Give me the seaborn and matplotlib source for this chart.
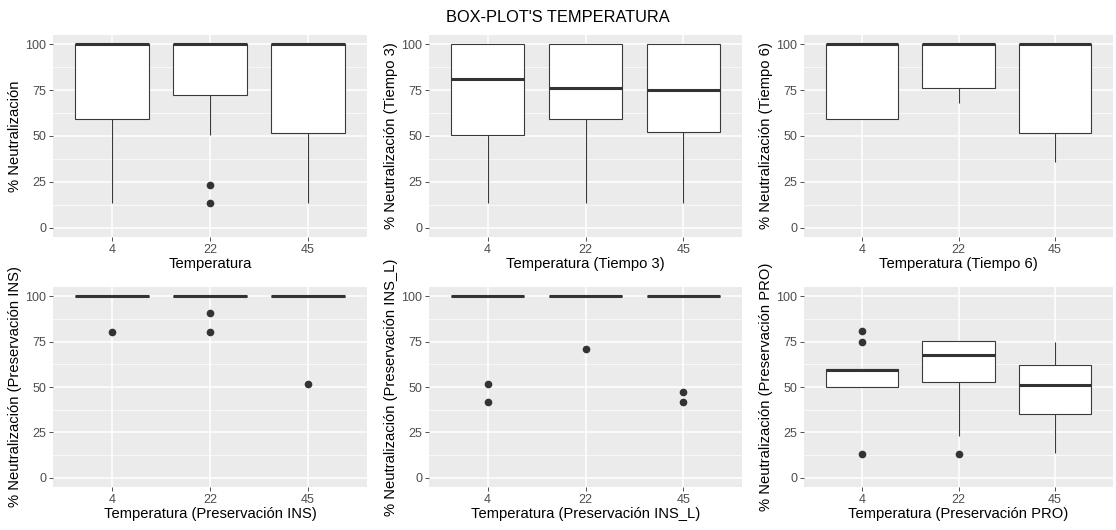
import numpy as np
import pandas as pd
import matplotlib
matplotlib.use("Agg")
import matplotlib.pyplot as plt
from matplotlib.ticker import MultipleLocator
import seaborn as sns

# ---- data ----
temperatures = ["4", "22", "45"]

neutral_t = {
    "4":  [13.7, 30, 45, 59.5, 70, 85, 100, 100, 100, 100, 100, 100, 100],
    "22": [13.4, 23.3, 50.4, 72.3, 85, 95, 100, 100, 100, 100, 100, 100, 100],
    "45": [13.7, 25, 40, 51.6, 65, 80, 100, 100, 100, 100, 100, 100, 100],
}
neutral_t3 = {
    "4":  [13.7, 30, 42, 50.7, 60, 72, 81.0, 90, 95, 100, 100, 100, 100],
    "22": [13.7, 35, 50, 59.5, 65, 70, 76.0, 85, 95, 100, 100, 100, 100],
    "45": [13.7, 30, 45, 52.2, 60, 70, 75.1, 85, 92, 100, 100, 100, 100],
}
neutral_t6 = {
    "4":  [59.5, 59.5, 59.5, 59.5, 80, 90, 100, 100, 100, 100, 100, 100, 100],
    "22": [68.1, 70, 76.0, 76.0, 85, 95, 100, 100, 100, 100, 100, 100, 100],
    "45": [35.7, 42, 51.6, 51.6, 70, 85, 100, 100, 100, 100, 100, 100, 100],
}
neutral_ins = {
    "4":  [80.4] + [100] * 12,
    "22": [80.4, 90.5] + [100] * 11,
    "45": [51.6] + [100] * 12,
}
neutral_ins_l = {
    "4":  [42.0, 51.6] + [100] * 11,
    "22": [70.9] + [100] * 12,
    "45": [42.0, 47.0] + [100] * 11,
}
neutral_pro = {
    "4":  [13.2, 49.8, 49.8, 49.8, 52, 56, 59.3, 59.7, 59.7, 59.7, 59.7, 75.0, 80.8],
    "22": [13.2, 23.2, 45, 53.0, 60, 65, 67.5, 70, 73, 75.3, 75.3, 75.3, 75.3],
    "45": [13.7, 20, 28, 34.9, 42, 48, 51.0, 55, 60, 62.2, 68, 72, 75.0],
}

panels = [
    (neutral_t, "Temperatura", "% Neutralización"),
    (neutral_t3, "Temperatura (Tiempo 3)", "% Neutralización (Tiempo 3)"),
    (neutral_t6, "Temperatura (Tiempo 6)", "% Neutralización (Tiempo 6)"),
    (neutral_ins, "Temperatura (Preservación INS)", "% Neutralización (Preservación INS)"),
    (neutral_ins_l, "Temperatura (Preservación INS_L)", "% Neutralización (Preservación INS_L)"),
    (neutral_pro, "Temperatura (Preservación PRO)", "% Neutralización (Preservación PRO)"),
]
y_ticks = [0, 25, 50, 75, 100]

# ---- style ----
sns.set_theme(style="white")
plt.rcParams["font.family"] = ["Liberation Sans", "DejaVu Sans"]

W, H = 1116, 530
fig = plt.figure(figsize=(W / 100, H / 100), dpi=100)

lefts = [53, 429, 804]
widths = [314, 313, 309]
rows = [(35, 237), (287, 487)]

for i, (d, xlabel, ylabel) in enumerate(panels):
    r, c = divmod(i, 3)
    top, bot = rows[r]
    ax = fig.add_axes([lefts[c] / W, (H - bot) / H, widths[c] / W, (bot - top) / H])
    df = pd.DataFrame(
        [(t, v) for t in temperatures for v in d[t]], columns=["temp", "val"]
    )
    ax.set_facecolor("#EBEBEB")
    ax.set_axisbelow(True)
    sns.boxplot(
        data=df, x="temp", y="val", order=temperatures, ax=ax,
        color="white", linecolor="#3a3a3a", linewidth=0.8, width=0.75,
        saturation=1, showcaps=False,
        medianprops=dict(linewidth=2.2, color="#333333"),
        whiskerprops=dict(linewidth=0.8, color="#3a3a3a"),
        flierprops=dict(marker="o", markerfacecolor="#333333",
                        markeredgecolor="#333333", markersize=4.5),
    )
    ax.set_xlim(-0.6, 2.6)
    ax.set_ylim(-5, 105)
    ax.set_yticks(y_ticks)
    ax.yaxis.set_minor_locator(MultipleLocator(12.5))
    ax.grid(which="major", color="white", linewidth=1.1)
    ax.grid(which="minor", axis="y", color="white", linewidth=0.5)
    for s in ax.spines.values():
        s.set_visible(False)
    ax.tick_params(axis="both", which="major", length=3, width=0.6,
                   color="#333333", labelcolor="#4D4D4D", labelsize=9, pad=2,
                   left=True, bottom=True)
    ax.tick_params(axis="both", which="minor", length=0)
    ax.set_xlabel(xlabel, fontsize=10.6, color="black", labelpad=1)
    ax.set_ylabel(ylabel, fontsize=10.6, color="black", labelpad=2)

fig.text(0.5, 1 - 17 / H, "BOX-PLOT'S TEMPERATURA", ha="center", va="center",
         fontsize=11.8, color="black")

fig.savefig("out.png", dpi=100)
